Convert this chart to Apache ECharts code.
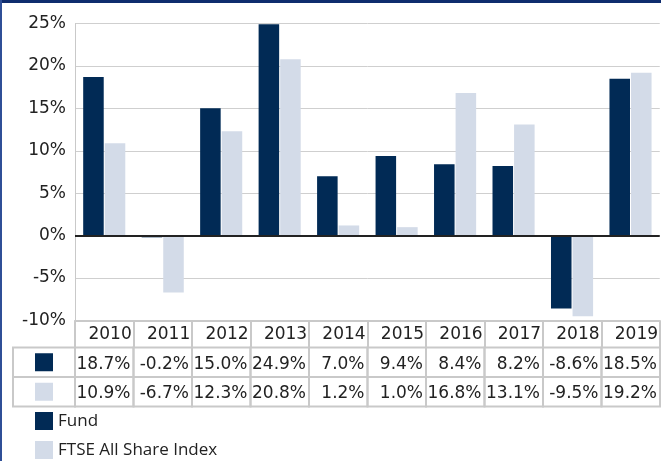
<!DOCTYPE html>
<html>
<head>
<meta charset="utf-8">
<script src="https://cdn.jsdelivr.net/npm/echarts@6/dist/echarts.min.js"></script>
<style>
  html, body { margin: 0; padding: 0; background: #fff; }
  #chart { width: 661px; height: 461px; }
</style>
</head>
<body>
<div id="chart"></div>
<script>
'use strict';

/* Chart data */
var years = ['2010', '2011', '2012', '2013', '2014', '2015', '2016', '2017', '2018', '2019'];
var fund = [18.7, -0.2, 15.0, 24.9, 7.0, 9.4, 8.4, 8.2, -8.6, 18.5];
var ftse = [10.9, -6.7, 12.3, 20.8, 1.2, 1.0, 16.8, 13.1, -9.5, 19.2];
var seriesNames = ['Fund', 'FTSE All Share Index'];
var yMin = -10, yMax = 25, yStep = 5;

var colors = ['#012a55', '#d3dbe8'];
var lineGrey = '#c9c9c9';
var numFont = '"DejaVu Sans", sans-serif';

/* table rows: [column, row, value] */
var tableData = [];
years.forEach(function (y, i) {
    tableData.push([i, 0, fund[i]]);
    tableData.push([i, 1, ftse[i]]);
});

function renderCell(params, api) {
    var col = api.value(0), row = api.value(1);
    var c = api.coord([col, row]);
    var s = api.size([1, 1]);
    var x0 = c[0] - s[0] / 2, y0 = c[1] - s[1] / 2;
    var children = [{
        type: 'rect',
        shape: { x: x0, y: y0, width: s[0], height: s[1] },
        style: { fill: 'none', stroke: lineGrey, lineWidth: 2 }
    }, {
        type: 'text',
        style: {
            text: api.value(2).toFixed(1) + '%',
            x: x0 + s[0] - 3, y: c[1] + 2,
            align: 'right', verticalAlign: 'middle',
            fill: '#222', fontSize: 17, fontFamily: numFont
        }
    }];
    if (col === 0) {
        var w = 62;
        children.push({
            type: 'rect',
            shape: { x: x0 - w, y: y0, width: w, height: s[1] },
            style: { fill: 'none', stroke: lineGrey, lineWidth: 2 }
        }, {
            type: 'rect',
            shape: { x: x0 - w / 2 - 9, y: c[1] - 9, width: 18, height: 18 },
            style: { fill: colors[row] }
        });
    }
    return { type: 'group', children: children };
}

var chart = echarts.init(document.getElementById('chart'));

chart.setOption({
    animation: false,
    backgroundColor: '#fff',
    color: colors,
    graphic: [
        { type: 'rect', shape: { x: 0, y: 0, width: 661, height: 3 }, style: { fill: '#0f2d6e' } },
        { type: 'rect', shape: { x: 0, y: 0, width: 2, height: 461 }, style: { fill: '#2f4f97' } }
    ],
    legend: {
        data: seriesNames,
        orient: 'vertical',
        left: 35,
        top: 412,
        padding: 0,
        itemWidth: 18,
        itemHeight: 18,
        itemGap: 11,
        icon: 'rect',
        textStyle: { color: '#222', fontSize: 17, fontFamily: '"Open Sans", sans-serif' }
    },
    grid: [
        { left: 75, right: 1, top: 23.5, height: 297 },
        { left: 75, right: 1, top: 347.5, height: 59 }
    ],
    xAxis: [{
        type: 'category',
        gridIndex: 0,
        data: years,
        axisLine: { onZero: false, lineStyle: { color: lineGrey, width: 2 } },
        axisTick: { show: true, length: 27, interval: 0, lineStyle: { color: lineGrey, width: 2 } },
        axisLabel: {
            interval: 0,
            margin: 4,
            formatter: function (v) { return '{a|' + v + '}'; },
            rich: {
                a: { width: 55, align: 'right', fontSize: 17, lineHeight: 20, color: '#222', fontFamily: numFont }
            }
        }
    }, {
        type: 'category',
        gridIndex: 1,
        data: years,
        show: false
    }],
    yAxis: [{
        type: 'value',
        gridIndex: 0,
        min: yMin,
        max: yMax,
        interval: yStep,
        axisLine: { show: true, lineStyle: { color: lineGrey, width: 1 } },
        axisTick: { show: false },
        splitLine: { lineStyle: { color: '#cfcfcf', width: 1 } },
        axisLabel: {
            margin: 9,
            color: '#222',
            fontSize: 17,
            fontFamily: numFont,
            formatter: '{value}%'
        }
    }, {
        type: 'category',
        gridIndex: 1,
        data: seriesNames,
        inverse: true,
        show: false
    }],
    series: [{
        name: seriesNames[0],
        type: 'bar',
        data: fund,
        barCategoryGap: '28%',
        barGap: '5%',
        markLine: {
            silent: true,
            symbol: 'none',
            label: { show: false },
            lineStyle: { color: '#222', width: 2, type: 'solid' },
            data: [{ yAxis: 0 }]
        }
    }, {
        name: seriesNames[1],
        type: 'bar',
        data: ftse,
        barCategoryGap: '28%',
        barGap: '5%'
    }, {
        name: 'table',
        type: 'custom',
        xAxisIndex: 1,
        yAxisIndex: 1,
        clip: false,
        silent: true,
        encode: { x: 0, y: 1 },
        renderItem: renderCell,
        data: tableData
    }]
});
</script>
</body>
</html>
